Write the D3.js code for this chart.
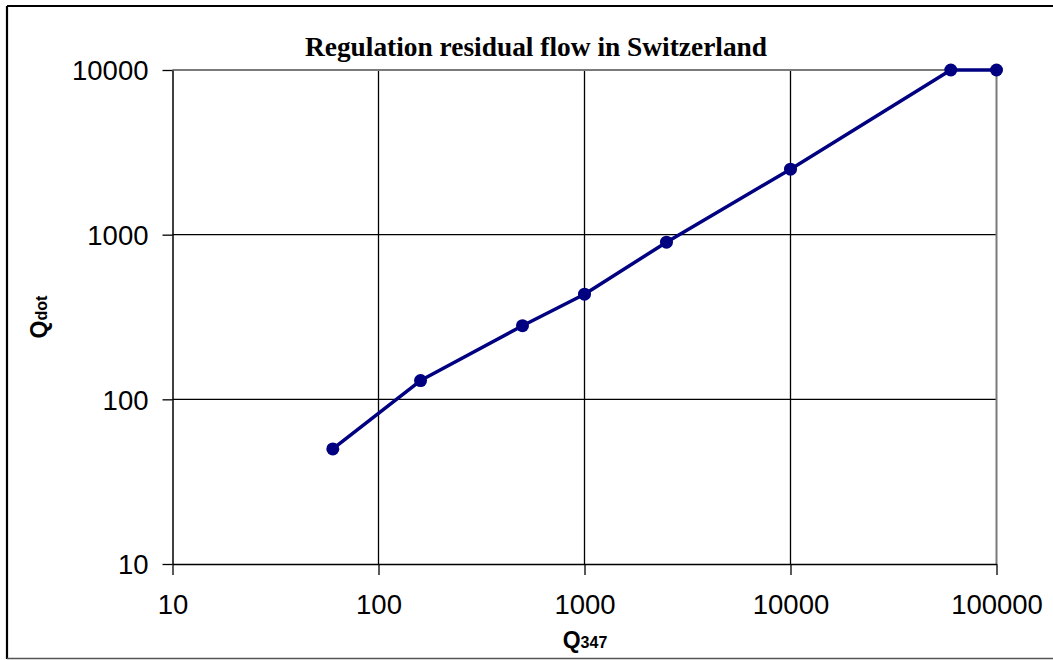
<!DOCTYPE html>
<html>
<head>
<meta charset="utf-8">
<script src="https://cdn.jsdelivr.net/npm/d3@7"></script>
<style>
  html, body { margin: 0; padding: 0; background: #fff; }
  svg { display: block; }
</style>
</head>
<body>
<svg id="chart" width="1053" height="660"></svg>
<script>
// Residual flow requirement (Q_dot) against Q347, both in l/s
const q347 = [60, 160, 500, 1000, 2500, 10000, 60000, 100000];
const qdot = [50, 130, 280, 435, 900, 2500, 10000, 10000];
const xTicks = [10, 100, 1000, 10000, 100000];
const yTicks = [10, 100, 1000, 10000];
const titleText = "Regulation residual flow in Switzerland";

const svg = d3.select("#chart");
const W = 1053, H = 660;
const plot = { left: 172.5, right: 996.5, top: 70, bottom: 564 };

// Outer chart frame
svg.append("line").attr("x1", 7).attr("x2", W).attr("y1", 6).attr("y2", 6)
  .attr("stroke", "#000").attr("stroke-width", 2.2);
svg.append("line").attr("x1", 7).attr("x2", 7).attr("y1", 6).attr("y2", 659)
  .attr("stroke", "#000").attr("stroke-width", 2.2);
svg.append("line").attr("x1", 7).attr("x2", W).attr("y1", 658.5).attr("y2", 658.5)
  .attr("stroke", "#555").attr("stroke-width", 1.6);

const x = d3.scaleLog().domain([10, 100000]).range([plot.left, plot.right]);
const y = d3.scaleLog().domain([10, 10000]).range([plot.bottom, plot.top]);

// Grid lines
const grid = svg.append("g");
grid.selectAll("line.v").data(xTicks.slice(1, -1)).enter().append("line")
  .attr("x1", d => x(d)).attr("x2", d => x(d))
  .attr("y1", plot.top).attr("y2", plot.bottom)
  .attr("stroke", "#000").attr("stroke-width", 1.3);
grid.selectAll("line.h").data(yTicks.slice(1, -1)).enter().append("line")
  .attr("x1", plot.left).attr("x2", plot.right)
  .attr("y1", d => y(d)).attr("y2", d => y(d))
  .attr("stroke", "#000").attr("stroke-width", 1.3);

// Plot area border: top and right in grey
svg.append("line").attr("x1", plot.left).attr("x2", plot.right)
  .attr("y1", plot.top).attr("y2", plot.top)
  .attr("stroke", "#7a7a7a").attr("stroke-width", 2);
svg.append("line").attr("x1", plot.right).attr("x2", plot.right)
  .attr("y1", plot.top).attr("y2", plot.bottom)
  .attr("stroke", "#7a7a7a").attr("stroke-width", 2);

// Axes
const fmt = d3.format("d");
const xAxis = d3.axisBottom(x).tickValues(xTicks).tickFormat(fmt)
  .tickSizeInner(11).tickSizeOuter(0).tickPadding(14);
const yAxis = d3.axisLeft(y).tickValues(yTicks).tickFormat(fmt)
  .tickSizeInner(10).tickSizeOuter(0).tickPadding(14);

const gx = svg.append("g").attr("transform", `translate(0,${plot.bottom})`).call(xAxis);
const gy = svg.append("g").attr("transform", `translate(${plot.left},0)`).call(yAxis);
[gx, gy].forEach(g => {
  g.select(".domain").attr("stroke", "#000").attr("stroke-width", 1.5);
  g.selectAll(".tick line").attr("stroke", "#000").attr("stroke-width", 1.3);
  g.selectAll(".tick text")
    .attr("fill", "#000")
    .style("font-family", "'Liberation Sans', Arial, sans-serif")
    .style("font-size", "27.5px");
});
gx.selectAll(".tick text").attr("dy", "0.92em");
gy.selectAll(".tick text").attr("dy", "0.36em");

// Title
svg.append("text")
  .attr("x", 536).attr("y", 56)
  .attr("text-anchor", "middle")
  .style("font-family", "'Liberation Serif', 'Times New Roman', serif")
  .style("font-weight", "bold")
  .style("font-size", "27.4px")
  .text(titleText);

// Axis titles with subscripts
const xt = svg.append("text")
  .attr("x", 585).attr("y", 648)
  .attr("text-anchor", "middle")
  .style("font-family", "'Liberation Sans', Arial, sans-serif")
  .style("font-weight", "bold");
xt.append("tspan").style("font-size", "23px").text("Q");
xt.append("tspan").style("font-size", "16px").text("347");

const yt = svg.append("text")
  .attr("transform", "translate(47,317) rotate(-90)")
  .attr("text-anchor", "middle")
  .style("font-family", "'Liberation Sans', Arial, sans-serif")
  .style("font-weight", "bold");
yt.append("tspan").style("font-size", "23px").text("Q");
yt.append("tspan").style("font-size", "16px").text("dot");

// Series line and markers
const pts = q347.map((v, i) => [v, qdot[i]]);
const line = d3.line().x(d => x(d[0])).y(d => y(d[1]));
svg.append("path").datum(pts)
  .attr("d", line)
  .attr("fill", "none")
  .attr("stroke", "#000080")
  .attr("stroke-width", 3.5)
  .attr("stroke-linejoin", "round");
svg.selectAll("circle.pt").data(pts).enter().append("circle")
  .attr("cx", d => x(d[0])).attr("cy", d => y(d[1]))
  .attr("r", 6.5)
  .attr("fill", "#000080");
</script>
</body>
</html>
